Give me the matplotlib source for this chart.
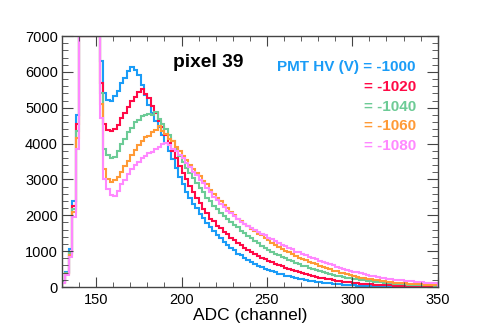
import numpy as np
import matplotlib
matplotlib.use("Agg")
from matplotlib import pyplot as plt
from matplotlib.ticker import MultipleLocator

plt.rcParams['font.family'] = ['Liberation Sans', 'DejaVu Sans']

# ADC bins, width 2 channels, 130..350
edges = np.arange(130, 352, 2)

hv_labels = ['-1000', '-1020', '-1040', '-1060', '-1080']
colors = ['#1a9cf7', '#ff0a46', '#6ccb96', '#ff9a36', '#ff88ff']

hv1000 = [160, 430, 1050, 2400, 4800, 12000, 30000, 30000, 30000, 30000,
          16000, 6300, 5400, 5220, 5180, 5330, 5480, 5700, 5830, 6020,
          6140, 6060, 5920, 5640, 5360, 5080, 4860, 4640, 4470, 4230,
          4010, 3790, 3560, 3310, 3070, 2860, 2660, 2490, 2320, 2190,
          2040, 1930, 1790, 1670, 1560, 1440, 1360, 1250, 1180, 1080,
          1020, 930, 880, 800, 760, 690, 650, 590, 560, 510,
          480, 440, 415, 375, 355, 320, 300, 270, 255, 225,
          210, 190, 178, 158, 146, 130, 122, 108, 100, 88,
          81, 70, 65, 57, 52, 46, 42, 37, 34, 30,
          27, 24, 22, 19, 17, 16, 14, 12, 11, 10,
          9, 8, 7, 7, 6, 5, 5, 4, 4, 3]
hv1020 = [140, 400, 980, 2250, 4550, 11000, 30000, 30000, 30000, 30000,
          14000, 5700, 4550, 4390, 4340, 4420, 4520, 4700, 4860, 5010,
          5180, 5310, 5440, 5530, 5390, 5260, 5040, 4860, 4640, 4450,
          4240, 4010, 3800, 3590, 3370, 3190, 3010, 2830, 2650, 2470,
          2330, 2170, 2050, 1910, 1830, 1710, 1640, 1540, 1470, 1370,
          1310, 1220, 1170, 1090, 1040, 970, 930, 860, 820, 770,
          735, 690, 655, 605, 580, 535, 510, 465, 445, 405,
          385, 350, 335, 300, 288, 260, 248, 222, 210, 190,
          180, 160, 152, 136, 128, 114, 106, 95, 89, 80,
          74, 66, 62, 55, 51, 46, 43, 39, 36, 33,
          30, 27, 25, 23, 21, 19, 17, 16, 14, 13]
hv1040 = [145, 390, 950, 2180, 4350, 10000, 30000, 30000, 30000, 30000,
          12000, 5400, 3850, 3680, 3600, 3630, 3800, 3990, 4140, 4310,
          4440, 4610, 4670, 4760, 4790, 4830, 4810, 4890, 4690, 4540,
          4400, 4240, 4060, 3840, 3660, 3490, 3320, 3190, 3030, 2910,
          2750, 2640, 2490, 2390, 2260, 2180, 2060, 1990, 1890, 1820,
          1720, 1660, 1560, 1500, 1410, 1360, 1270, 1220, 1140, 1100,
          1020, 990, 920, 890, 830, 805, 750, 725, 670, 650,
          595, 575, 525, 505, 465, 448, 410, 395, 360, 345,
          315, 303, 275, 265, 240, 232, 210, 200, 182, 172,
          156, 148, 134, 127, 115, 108, 99, 93, 85, 80,
          73, 68, 63, 59, 55, 52, 48, 46, 43, 41]
hv1060 = [120, 370, 900, 2100, 4150, 9500, 30000, 30000, 30000, 30000,
          11000, 5100, 3300, 3020, 2940, 2990, 3080, 3210, 3370, 3520,
          3690, 3810, 3960, 4060, 4170, 4220, 4330, 4380, 4490, 4360,
          4270, 4140, 4060, 3900, 3790, 3640, 3540, 3390, 3300, 3170,
          3090, 2950, 2860, 2700, 2590, 2470, 2390, 2280, 2210, 2090,
          2020, 1910, 1850, 1750, 1700, 1610, 1570, 1490, 1440, 1360,
          1300, 1230, 1180, 1110, 1070, 1010, 970, 910, 875, 820,
          790, 740, 710, 665, 630, 590, 565, 520, 495, 460,
          435, 400, 380, 350, 330, 305, 285, 262, 245, 225,
          212, 194, 182, 166, 156, 143, 134, 123, 116, 106,
          100, 92, 86, 80, 75, 70, 66, 62, 58, 55]
hv1080 = [100, 340, 850, 1950, 3850, 8500, 30000, 30000, 30000, 30000,
          8000, 4700, 3000, 2720, 2560, 2530, 2690, 2860, 2990, 3160,
          3290, 3410, 3490, 3590, 3640, 3730, 3770, 3860, 3910, 3990,
          4010, 3960, 3860, 3790, 3680, 3610, 3470, 3360, 3220, 3120,
          2990, 2900, 2760, 2650, 2510, 2420, 2310, 2240, 2130, 2070,
          1970, 1910, 1820, 1770, 1690, 1650, 1580, 1540, 1470, 1440,
          1380, 1340, 1270, 1240, 1170, 1140, 1080, 1050, 990, 965,
          920, 880, 845, 800, 770, 730, 700, 660, 635, 600,
          570, 535, 510, 480, 455, 425, 405, 380, 360, 335,
          318, 298, 282, 264, 250, 234, 222, 208, 197, 186,
          176, 166, 157, 148, 140, 132, 125, 117, 111, 104]

series = [hv1000, hv1020, hv1040, hv1060, hv1080]
ymax = 7000

fig = plt.figure(figsize=(4.91, 3.34), dpi=100)
ax = fig.add_axes([0.1263, 0.1407, 0.7651, 0.7515])

for vals, c in zip(series, colors):
    # ROOT draws the overflow flat on the frame
    ax.stairs(np.minimum(vals, ymax), edges, color=c, lw=1.5, baseline=0)

ax.set_xlim(130, 350)
ax.set_ylim(0, ymax)
ax.xaxis.set_major_locator(MultipleLocator(50))
ax.xaxis.set_minor_locator(MultipleLocator(10))
ax.yaxis.set_major_locator(MultipleLocator(1000))
ax.yaxis.set_minor_locator(MultipleLocator(200))
ax.tick_params(which='both', direction='in', top=True, right=True, labelsize=10.5, color='#444444')
ax.tick_params(axis='y', which='major', length=8, pad=3)
ax.tick_params(axis='y', which='minor', length=4)
ax.tick_params(axis='x', which='major', length=7, pad=4)
ax.tick_params(axis='x', which='minor', length=3.5)
for s in ax.spines.values():
    s.set_color('#444444')
    s.set_linewidth(1.0)

ax.set_xlabel('ADC (channel)', fontsize=12.5, labelpad=1)

ax.text(0.295, 0.878, 'pixel 39', transform=ax.transAxes, fontsize=13.8,
        fontweight='bold', ha='left', va='baseline')

x_right = 0.942
y0 = 0.86
for i, (lab, c) in enumerate(zip(hv_labels, colors)):
    txt = ('PMT HV (V) = ' if i == 0 else '= ') + lab
    ax.text(x_right, y0 - i * 0.0785, txt, transform=ax.transAxes, fontsize=11,
            fontweight='bold', color=c, ha='right', va='baseline')

fig.savefig('out.png', dpi=100)
